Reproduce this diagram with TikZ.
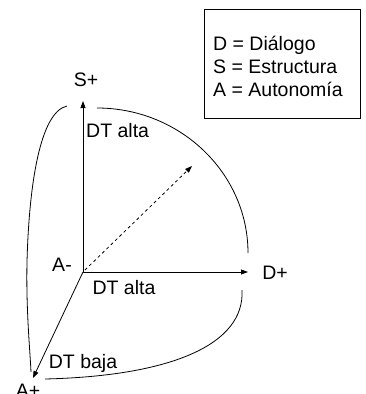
\documentclass[tikz,border=0pt]{standalone}
\usepackage{fontspec}
\setmainfont{Liberation Sans}
\usetikzlibrary{arrows.meta}
\begin{document}
\begin{tikzpicture}[x=1pt,y=-1pt,
  every node/.style={font=\fontsize{19.5}{23}\selectfont, inner sep=0pt},
  axis/.style={line width=0.8pt,-{Triangle[length=7pt,width=5pt]}},
  curve/.style={line width=0.8pt},
  lbl/.style={anchor=center}]
\useasboundingbox (0,0) rectangle (365,394);
\coordinate (O) at (83,272);
\coordinate (Stop) at (83,101);
\coordinate (Dend) at (248,272);
\coordinate (Aend) at (33,378);
\coordinate (dS) at (85,270);
\coordinate (dE) at (192,166);
% axes
\draw[axis] (O) -- (Stop);
\draw[axis] (O) -- (Dend);
\draw[axis] (O) -- (Aend);
\draw[line width=0.8pt,dashed,-{Triangle[length=7pt,width=5pt]}] (dS) -- (dE);
% curves
\coordinate (c1a) at (97,108);
\coordinate (c1b) at (248,253);
\draw[curve] (c1a) .. controls (180,108) and (248,173) .. (c1b);
\coordinate (c2a) at (67,106);
\coordinate (c2m) at (27,262);
\coordinate (c2b) at (31,372);
\draw[curve] (c2a) .. controls (40,112) and (29,185) .. (c2m) .. controls (26,310) and (30,350) .. (c2b);
\coordinate (c3a) at (242,290);
\coordinate (c3b) at (45,379);
\draw[curve] (c3a) .. controls (245,345) and (170,376) .. (c3b);
% labels
\node[lbl] (Sp) at (86,80) {S+};
\node[anchor=west] (dt1) at (86,131) {DT alta};
\node[lbl] (Am) at (62,265) {A-};
\node[lbl] (Dp) at (275,273) {D+};
\node[lbl] (dt2) at (124,288) {DT alta};
\node[lbl] (dt3) at (83,363) {DT baja};
\node[lbl] (Ap) at (28,391) {A+};
% legend
\node[draw, line width=0.8pt, minimum width=156pt, minimum height=109pt] (legend) at (282,63.5) {};
\node[anchor=west, align=left] (legtext) at (213,66) {D = Diálogo\\S = Estructura\\A = Autonomía};
\end{tikzpicture}
\end{document}
